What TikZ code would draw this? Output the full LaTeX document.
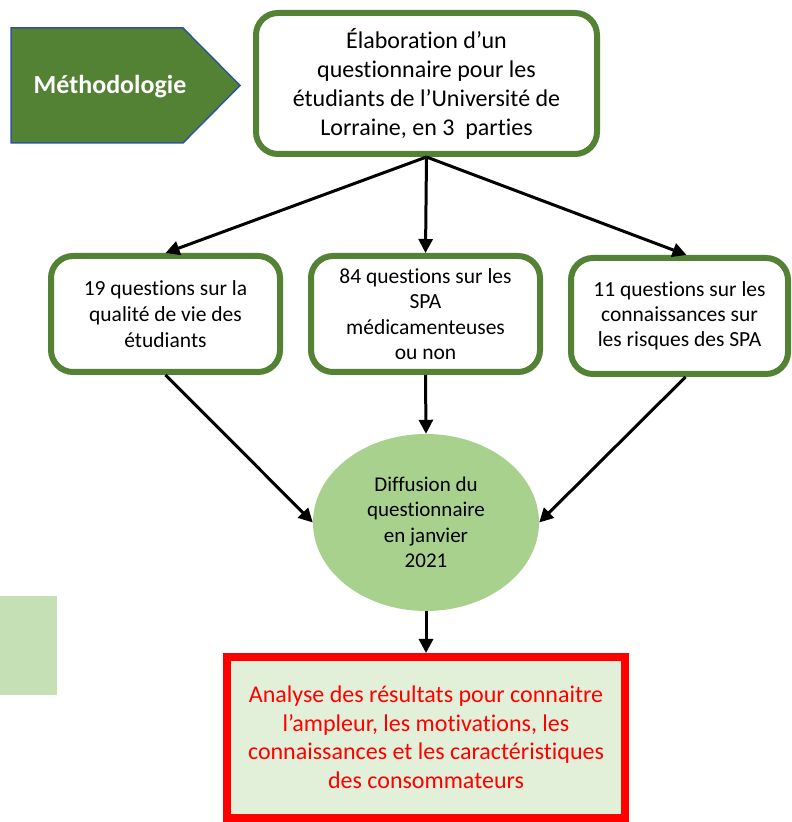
\documentclass[tikz,border=0pt]{standalone}
\usepackage{fontspec}
\setmainfont{Carlito}[Ligatures={NoCommon}]
\usetikzlibrary{arrows.meta,shapes.geometric}

\definecolor{darkgreen}{HTML}{548235}
\definecolor{lightgreen}{HTML}{A9D18E}
\definecolor{palegreen}{HTML}{E2F0D9}
\definecolor{patchgreen}{HTML}{C5E0B4}
\definecolor{borderblue}{HTML}{2F5597}

\tikzset{
    greenbox/.style={draw=darkgreen, line width=6pt, rounded corners=22pt, fill=white,
        align=center, inner sep=0pt},
    flow/.style={-{Triangle[length=14pt,width=14pt]}, line width=3pt, black}
}

\begin{document}
\begin{tikzpicture}[x=1pt, y=1pt]
            \useasboundingbox (0,0) rectangle (792,822);

            % Define nodes
            \draw[fill=darkgreen, draw=borderblue, line width=1.5pt]
                (11,794) -- (183,794) -- (240,736.5) -- (183,679) -- (11,679) -- cycle;
            \node[text=white, font=\fontsize{26}{30}\selectfont\bfseries] (methodo) at (110,735) {Méthodologie};
            \node[greenbox, minimum width=341pt, minimum height=141pt,
                font=\fontsize{24}{29}\selectfont] (top) at (426.5,738.5)
                {Élaboration d’un\\questionnaire pour les\\étudiants de l’Université de\\Lorraine, en 3~ parties};
            \node[greenbox, minimum width=229pt, minimum height=116pt,
                font=\fontsize{21.5}{26}\selectfont] (q1) at (165.5,508)
                {19 questions sur la\\qualité de vie des\\étudiants};
            \node[greenbox, minimum width=229pt, minimum height=116pt,
                font=\fontsize{21.5}{25.5}\selectfont] (q2) at (425.5,508)
                {84 questions sur les\\SPA\\médicamenteuses\\ou non};
            \node[greenbox, minimum width=217pt, minimum height=116pt,
                font=\fontsize{21.5}{25}\selectfont] (q3) at (679.5,506)
                {11 questions sur les\\connaissances sur\\les risques des SPA};
            \node[ellipse, fill=lightgreen, minimum width=226pt, minimum height=177pt, inner sep=0pt,
                align=center, font=\fontsize{21}{25.5}\selectfont] (diff) at (426,299.5)
                {Diffusion du\\questionnaire\\en janvier\\2021};
            \node[draw=red, line width=8pt, fill=palegreen, minimum width=398pt, minimum height=161pt,
                inner sep=0pt, align=center, text=red,
                font=\fontsize{24}{28.5}\selectfont] (result) at (426,84.5)
                {\raisebox{-3pt}{\parbox{380pt}{\centering Analyse des résultats pour connaitre\\l’ampleur, les motivations, les\\connaissances et les caractéristiques\\des consommateurs}}};
            \node[fill=patchgreen, minimum width=57pt, minimum height=99pt, inner sep=0pt] (patch) at (28.5,176.5) {};

            % Draw edges
            \draw[flow] (top.south) -- (q1.north);
            \draw[flow] (top.south) -- (q2.north);
            \draw[flow] (top.south) -- ([xshift=7pt]q3.north);
            \draw[flow] (q1.south) -- (diff.west);
            \draw[flow] (q2.south) -- (diff.north);
            \draw[flow] ([xshift=6pt]q3.south) -- (diff.east);
            \draw[flow] (diff.south) -- (result.north);

        \end{tikzpicture}
\end{document}
